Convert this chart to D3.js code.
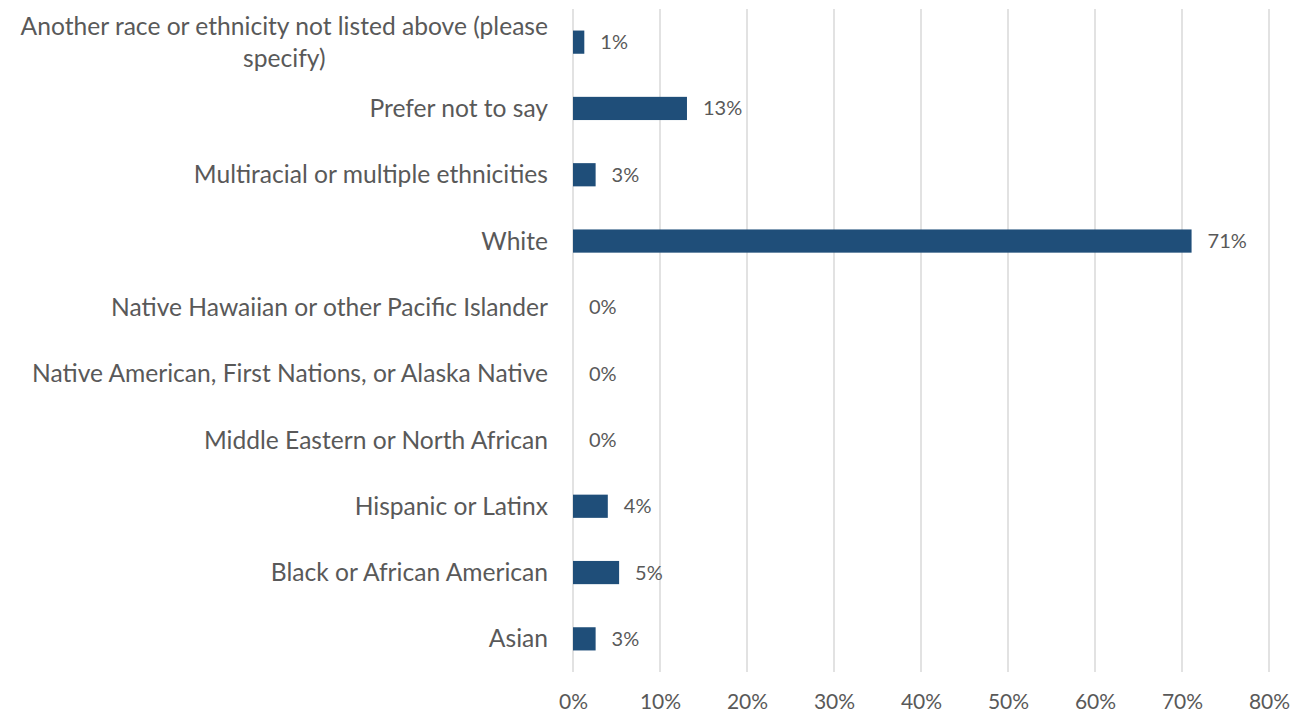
<!DOCTYPE html>
<html>
<head>
<meta charset="utf-8">
<script src="https://cdn.jsdelivr.net/npm/d3@7"></script>
<style>
  html, body { margin: 0; padding: 0; background: #fff; }
  svg text { font-family: Lato, "Liberation Sans", sans-serif; fill: #595959; }
</style>
</head>
<body>
<svg id="chart" width="1304" height="715"></svg>
<script>
// Categories listed top to bottom
const categories = [
  "Another race or ethnicity not listed above (please specify)",
  "Prefer not to say",
  "Multiracial or multiple ethnicities",
  "White",
  "Native Hawaiian or other Pacific Islander",
  "Native American, First Nations, or Alaska Native",
  "Middle Eastern or North African",
  "Hispanic or Latinx",
  "Black or African American",
  "Asian"
];
// Share of respondents (%)
const values = [1.3, 13.1, 2.6, 71.1, 0, 0, 0, 4.0, 5.3, 2.6];
const valueLabels = ["1%", "13%", "3%", "71%", "0%", "0%", "0%", "4%", "5%", "3%"];
const tickValues = [0, 10, 20, 30, 40, 50, 60, 70, 80];

const svg = d3.select("#chart");
const margin = { left: 573, right: 35, top: 9, bottom: 43 };
const W = 1304, H = 715;
const axisFont = 21, valueFont = 20, catFont = 24.6;

const x = d3.scaleLinear().domain([0, 80]).range([margin.left, W - margin.right]);
const y = d3.scaleBand().domain(categories).range([margin.top, H - margin.bottom]).paddingInner(0.65).paddingOuter(0.325);

// vertical gridlines
svg.append("g").selectAll("line").data(tickValues).join("line")
  .attr("x1", d => x(d)).attr("x2", d => x(d))
  .attr("y1", margin.top).attr("y2", H - margin.bottom)
  .attr("stroke", "#d9d9d9").attr("stroke-width", 1.5);

// x axis labels
const xAxis = d3.axisBottom(x).tickValues(tickValues).tickFormat(d => d + "%").tickSize(0).tickPadding(0);
const gx = svg.append("g").attr("transform", `translate(0,${H - margin.bottom})`).call(xAxis);
gx.select(".domain").remove();
gx.selectAll("text").attr("y", 30).attr("dy", "0.35em")
  .style("font-size", axisFont + "px").attr("font-family", null).attr("fill", null);

// bars
svg.append("g").selectAll("rect").data(categories).join("rect")
  .attr("x", x(0))
  .attr("y", d => y(d))
  .attr("width", (d, i) => x(values[i]) - x(0))
  .attr("height", y.bandwidth())
  .attr("fill", "#1f4e79");

// value labels
svg.append("g").selectAll("text").data(categories).join("text")
  .attr("x", (d, i) => x(values[i]) + 16)
  .attr("y", d => y(d) + y.bandwidth() / 2)
  .attr("dy", "0.35em")
  .style("font-size", valueFont + "px")
  .text((d, i) => valueLabels[i]);

// category labels, wrapping long ones onto two lines
const wrapLines = {
  "Another race or ethnicity not listed above (please specify)": ["Another race or ethnicity not listed above (please", "specify)"]
};
const labelX = 548;
const catG = svg.append("g");
categories.forEach(c => {
  const cy = y(c) + y.bandwidth() / 2;
  const lines = wrapLines[c] || [c];
  const lh = 32;
  const t = catG.append("text").attr("text-anchor", "end").style("font-size", catFont + "px");
  lines.forEach((ln, k) => {
    const ly = cy + (k - (lines.length - 1) / 2) * lh;
    t.append("tspan").attr("x", labelX).attr("y", ly).attr("dy", "0.35em").text(ln);
  });
});
// center the wrapped lines on each other
catG.selectAll("text").each(function() {
  const spans = d3.select(this).selectAll("tspan");
  if (spans.size() > 1) {
    const widths = spans.nodes().map(n => n.getComputedTextLength());
    const maxW = Math.max(...widths);
    spans.each(function(_, k) {
      d3.select(this).attr("x", labelX - (maxW - widths[k]) / 2);
    });
  }
});
</script>
</body>
</html>
